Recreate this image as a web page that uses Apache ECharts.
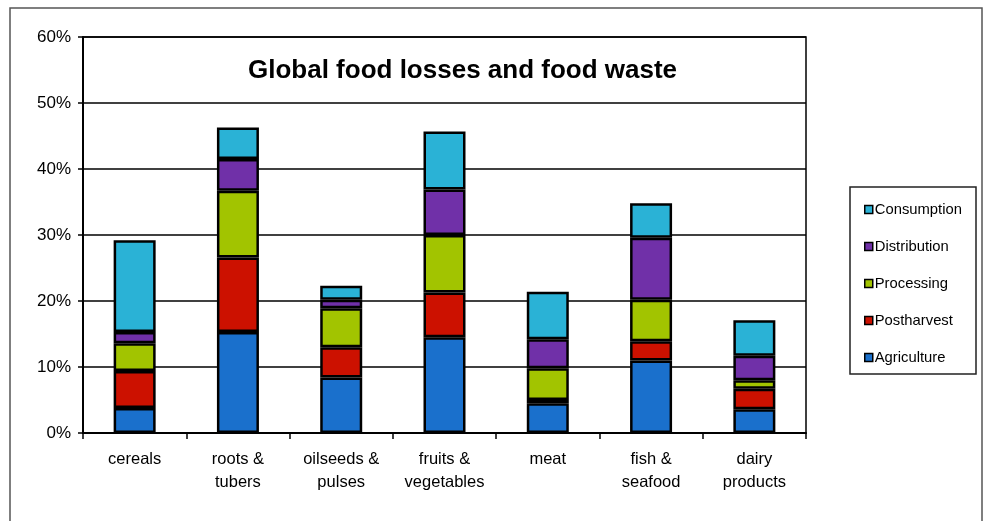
<!DOCTYPE html>
<html>
<head>
<meta charset="utf-8">
<script src="https://cdn.jsdelivr.net/npm/echarts@6/dist/echarts.min.js"></script>
<style>
  html, body { margin: 0; padding: 0; background: #fff; }
  #chart { width: 985px; height: 521px; }
</style>
</head>
<body>
<div id="chart"></div>
<script>
// data (percent)
const categories = ['cereals', 'roots &\ntubers', 'oilseeds &\npulses', 'fruits &\nvegetables', 'meat', 'fish &\nseafood', 'dairy\nproducts']
const agriculture  = [3.8, 15.3, 8.4, 14.5, 4.5, 11.0, 3.6]
const postharvest  = [5.6, 11.3, 4.6, 6.8, 0.5, 2.9, 3.1]
const processing   = [4.2, 10.1, 5.9, 8.7, 4.8, 6.3, 1.3]
const distribution = [1.7, 4.8, 1.3, 6.9, 4.4, 9.4, 3.7]
const consumption  = [13.9, 4.8, 2.1, 8.8, 7.2, 5.2, 5.4]
const stageNames = ['Agriculture', 'Postharvest', 'Processing', 'Distribution', 'Consumption']
const stageColors = ['#1a70cc', '#cc1100', '#a2c400', '#7030a8', '#2ab2d6']

const chart = echarts.init(document.getElementById('chart'))
const font = '"Liberation Sans", Arial, sans-serif'

const stages = [agriculture, postharvest, processing, distribution, consumption]
const series = stages.map((vals, i) => ({
    name: stageNames[i],
    type: 'bar',
    stack: 'total',
    barWidth: 42,
    data: vals,
    itemStyle: {color: stageColors[i], borderColor: '#000', borderWidth: 2.5}
}))

chart.setOption({
    animation: false,
    textStyle: {fontFamily: font},
    grid: {left: 83, top: 37, width: 723, height: 396, show: true, borderColor: '#000', borderWidth: 1.5},
    graphic: [
        {type: 'rect', shape: {x: 10, y: 8, width: 972, height: 520}, style: {fill: 'none', stroke: '#555', lineWidth: 1.5}, z: -1},
        {type: 'rect', shape: {x: 850, y: 187, width: 126, height: 187}, style: {fill: '#fff', stroke: '#222', lineWidth: 1.5}, z: 1},
        {type: 'text', left: 248, top: 58, style: {text: 'Global food losses and food waste', font: 'bold 26px ' + font, fill: '#000'}, z: 10}
    ],
    legend: {
        orient: 'vertical',
        left: 859,
        top: 197,
        itemWidth: 8,
        itemHeight: 8,
        itemGap: 22,
        icon: 'rect',
        data: stageNames.slice().reverse(),
        textStyle: {fontSize: 14.8, color: '#000', fontFamily: font, padding: [0, 0, 0, -3]},
        itemStyle: {borderColor: '#000', borderWidth: 1.5},
        z: 5
    },
    xAxis: {
        type: 'category',
        data: categories,
        axisLine: {lineStyle: {color: '#000', width: 2}},
        axisTick: {show: true, alignWithLabel: false, length: 6, lineStyle: {color: '#000', width: 1.5}},
        axisLabel: {color: '#000', fontSize: 16.5, lineHeight: 23, margin: 15, interval: 0}
    },
    yAxis: {
        type: 'value',
        min: 0,
        max: 60,
        interval: 10,
        axisLine: {show: true, lineStyle: {color: '#000', width: 2}},
        axisTick: {show: true, length: 5, lineStyle: {color: '#000', width: 1.5}},
        axisLabel: {color: '#000', fontSize: 17, margin: 12, formatter: '{value}%'},
        splitLine: {lineStyle: {color: '#000', width: 1.5}}
    },
    series: series
})
</script>
</body>
</html>
